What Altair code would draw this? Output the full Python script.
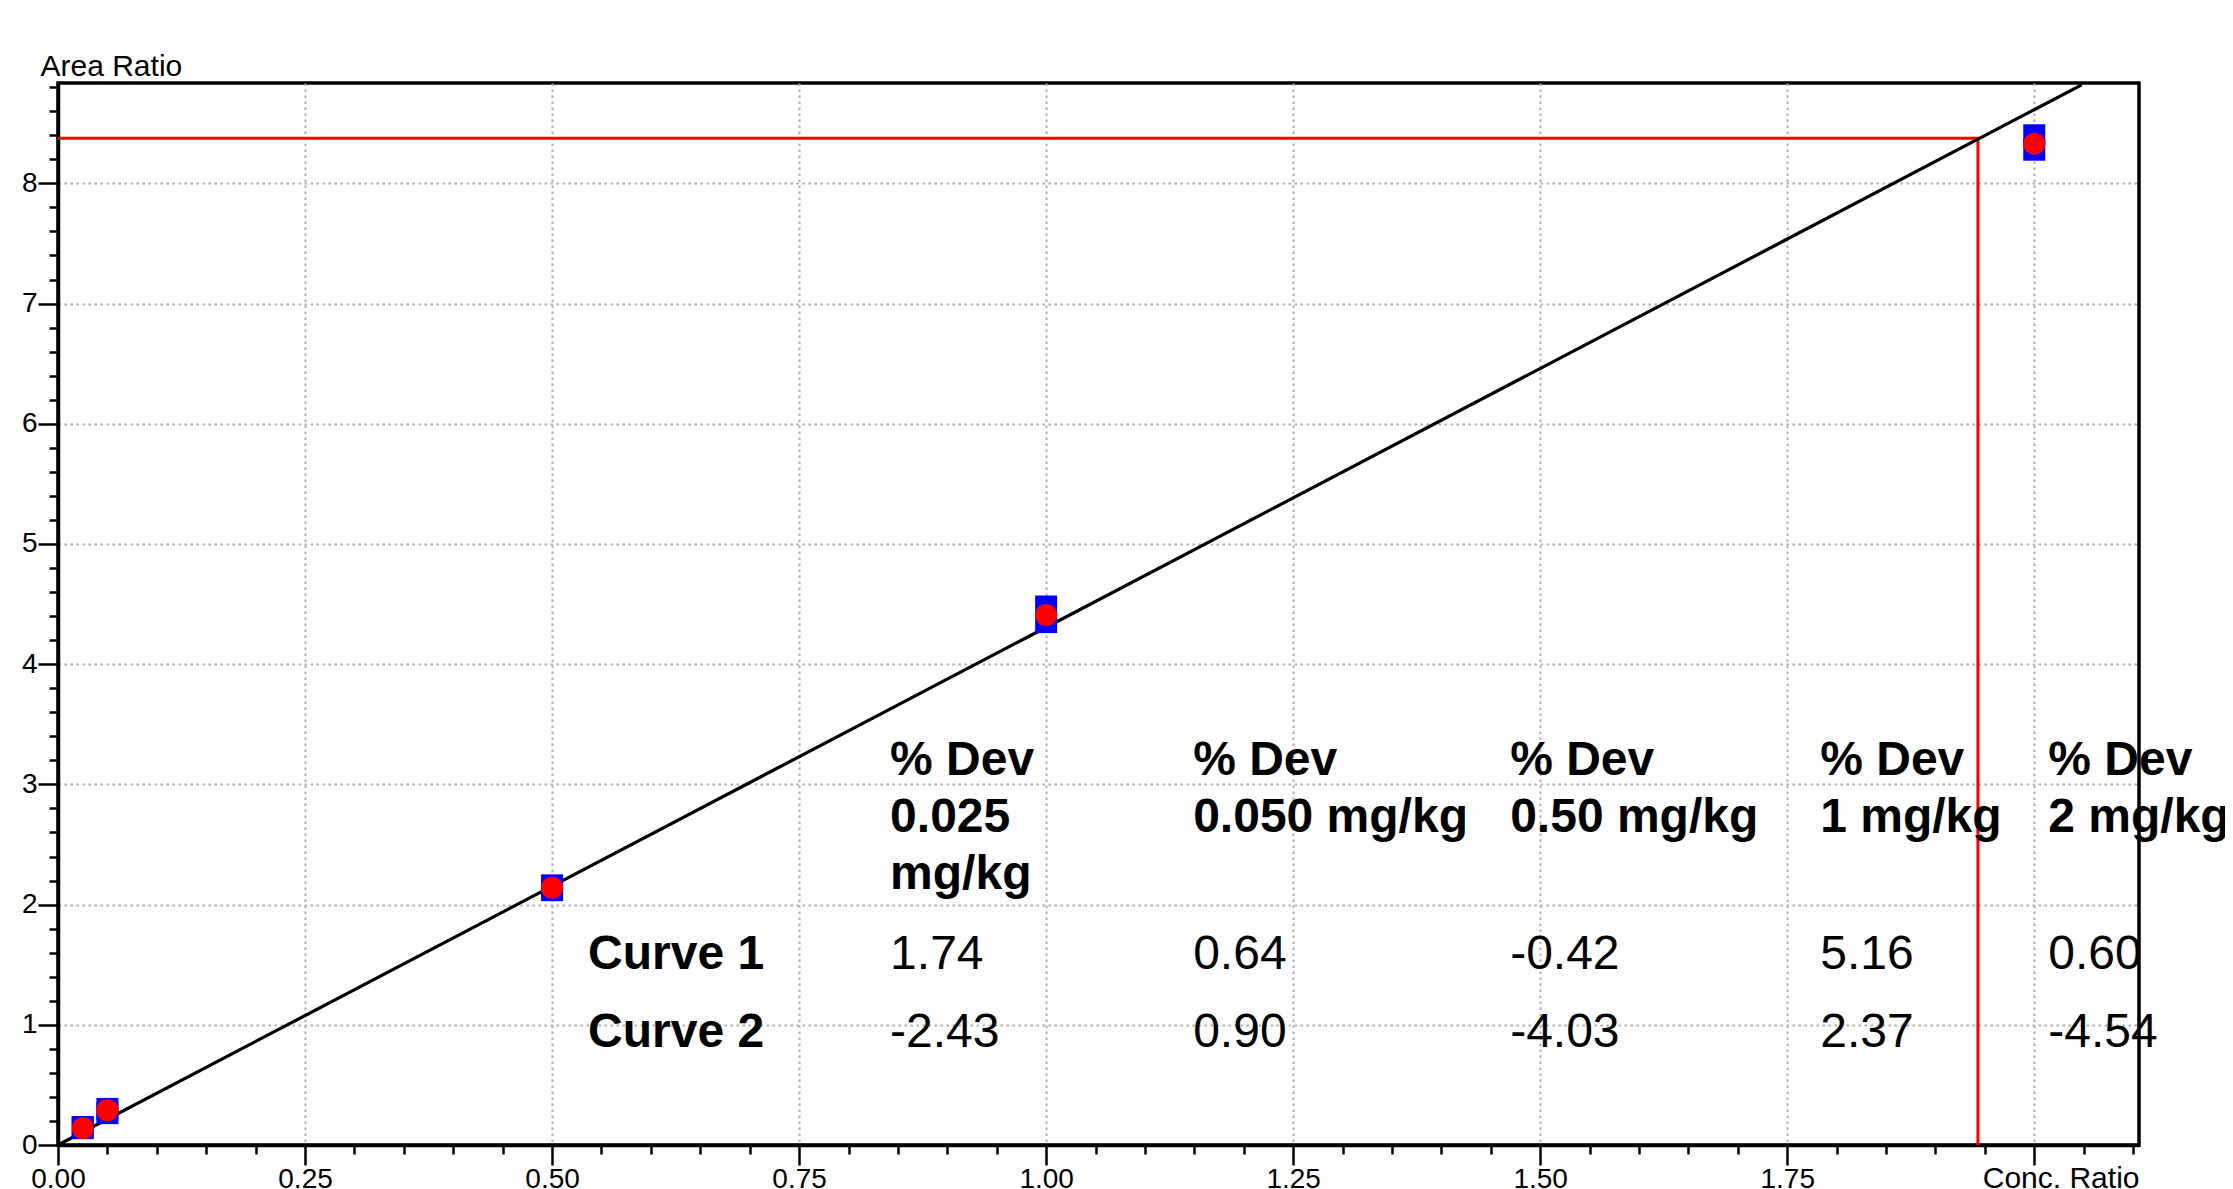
import altair as alt
import pandas as pd

# ---------------- data ----------------
conc = [0.025, 0.05, 0.5, 1.0, 2.0]
blue_upper = [0.15, 0.30, 2.16, 4.48, 8.40]
blue_lower = [0.14, 0.265, 2.12, 4.35, 8.28]
red_mean = [0.14, 0.29, 2.14, 4.41, 8.33]

fit_x = [0.0, 2.048]
fit_y = [0.0, 8.82]

ref_x = 1.943
ref_y = 8.375

col_headers = [
    ["% Dev", "0.025", "mg/kg"],
    ["% Dev", "0.050 mg/kg"],
    ["% Dev", "0.50 mg/kg"],
    ["% Dev", "1 mg/kg"],
    ["% Dev", "2 mg/kg"],
]
row_labels = ["Curve 1", "Curve 2"]
curve1_dev = [1.74, 0.64, -0.42, 5.16, 0.60]
curve2_dev = [-2.43, 0.90, -4.03, 2.37, -4.54]

# ---------------- axes ----------------
x_domain = [0, 2.106]
y_domain = [0, 8.835]
x_tick_values = [round(i * 0.05, 2) for i in range(43)]
y_tick_values = [round(i * 0.2, 1) for i in range(45)]

# ---------------- layout (table anchors in axis units) ----------------
label_col_x = 0.5364
col_x = [0.8421, 1.1488, 1.4696, 1.7834, 2.0142]
header_line_y = [3.078, 2.604, 2.130]
row_y = [1.464, 0.815]

W, H = 2081, 1062
FONT = "Liberation Sans"

# ---------------- frames ----------------
pts = pd.DataFrame(
    {"x": conc * 2, "y": blue_upper + blue_lower,
     "s": ["a"] * len(conc) + ["b"] * len(conc)}
)
red_pts = pd.DataFrame({"x": conc, "y": red_mean})
fit = pd.DataFrame({"x": fit_x, "y": fit_y})
ref = pd.DataFrame({"x": [0.0, ref_x, ref_x], "y": [ref_y, ref_y, 0.0], "o": [0, 1, 2]})

bold_rows, norm_rows = [], []
for ci, lines in enumerate(col_headers):
    for li, t in enumerate(lines):
        bold_rows.append({"x": col_x[ci], "y": header_line_y[li], "t": t})
for ri, lab in enumerate(row_labels):
    bold_rows.append({"x": label_col_x, "y": row_y[ri], "t": lab})
for ri, vals in enumerate([curve1_dev, curve2_dev]):
    for ci, v in enumerate(vals):
        norm_rows.append({"x": col_x[ci], "y": row_y[ri], "t": f"{v:.2f}"})
bold_df = pd.DataFrame(bold_rows)
norm_df = pd.DataFrame(norm_rows)

xs = alt.Scale(domain=x_domain, nice=False, zero=False)
ys = alt.Scale(domain=y_domain, nice=False, zero=False)

x_major = "abs(datum.value*4 - round(datum.value*4)) < 0.001"
y_major = "abs(datum.value - round(datum.value)) < 0.001"

x_axis = alt.Axis(
    values=x_tick_values,
    title="Conc. Ratio",
    titleX=W, titleY=42.5, titleAlign="right", titleBaseline="alphabetic",
    titleFont=FONT, titleFontSize=30, titleFontWeight="normal", titleColor="black",
    labelExpr=f"({x_major}) && datum.value < 1.99 ? format(datum.value, '.2f') : ''",
    labelFont=FONT, labelFontSize=28, labelColor="black",
    labelFlush=False, labelOverlap=False, labelBound=False,
    labelPadding=0, labelBaseline="top",
    tickSize={"condition": {"test": x_major, "value": 20}, "value": 9},
    gridOpacity={"condition": {"test": x_major, "value": 1}, "value": 0},
    grid=True,
)
y_axis = alt.Axis(
    values=y_tick_values,
    title="Area Ratio",
    titleAngle=0, titleX=-18, titleY=-8, titleAlign="left", titleBaseline="alphabetic",
    titleFont=FONT, titleFontSize=30, titleFontWeight="normal", titleColor="black",
    labelExpr=f"({y_major}) ? format(datum.value, '.0f') : ''",
    labelFont=FONT, labelFontSize=28, labelColor="black",
    labelFlush=False, labelOverlap=False, labelBound=False,
    labelPadding=1,
    tickSize={"condition": {"test": y_major, "value": 20}, "value": 9},
    gridOpacity={"condition": {"test": y_major, "value": 1}, "value": 0},
    grid=True,
)

ref_layer = alt.Chart(ref).mark_line(color="#ff0000", strokeWidth=3).encode(order="o:Q")
fit_layer = alt.Chart(fit).mark_line(color="black", strokeWidth=3.2)
sq_layer = alt.Chart(pts).mark_point(
    shape="square", filled=True, size=484, color="#0000ff", opacity=1
).encode(detail="s:N")
circ_layer = alt.Chart(red_pts).mark_point(
    shape="circle", filled=True, size=484, color="#ff0000", opacity=1
)
bold_layer = alt.Chart(bold_df).mark_text(
    align="left", baseline="alphabetic", font=FONT, fontSize=48, fontWeight="bold", color="black"
).encode(text="t:N")
norm_layer = alt.Chart(norm_df).mark_text(
    align="left", baseline="alphabetic", font=FONT, fontSize=48, fontWeight="normal", color="black"
).encode(text="t:N")

chart = (
    alt.layer(ref_layer, fit_layer, sq_layer, circ_layer, bold_layer, norm_layer)
    .encode(
        x=alt.X("x:Q", scale=xs, axis=x_axis),
        y=alt.Y("y:Q", scale=ys, axis=y_axis),
    )
    .properties(
        width=W, height=H,
        autosize=alt.AutoSizeParams(type="none"),
        padding={"left": 50, "top": 75, "right": 86, "bottom": 44},
        background="white",
    )
    .configure_view(stroke="black", strokeWidth=3.5)
    .configure_axis(
        domainColor="black", domainWidth=3.5,
        tickColor="black", tickWidth=2.5,
        gridColor="#b0b0b0", gridDash=[2.5, 3.5], gridWidth=2,
    )
)

chart.save("out.html", embed_options={"renderer": "svg", "actions": False})
